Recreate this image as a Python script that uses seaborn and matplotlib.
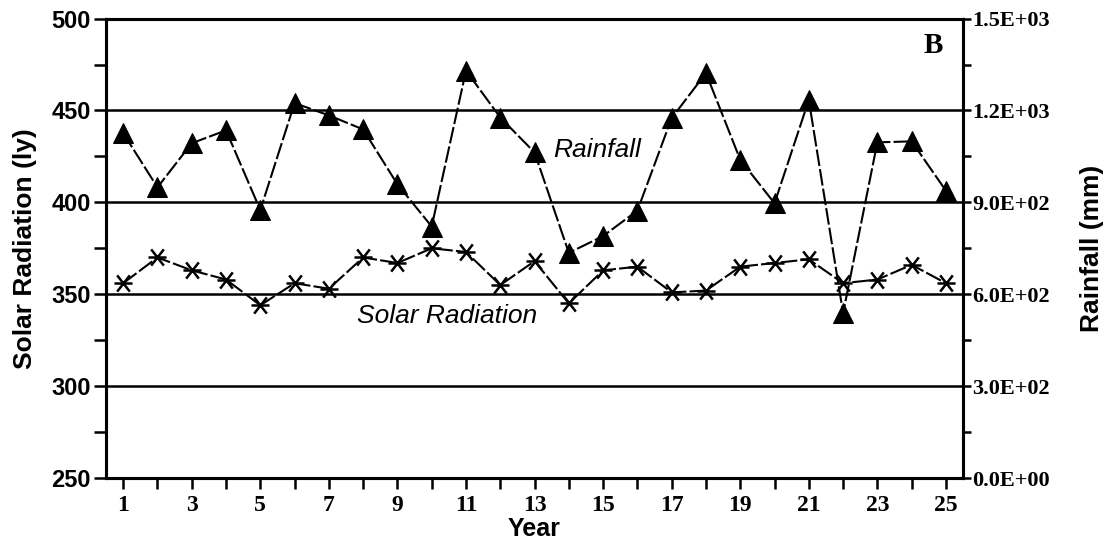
import numpy as np
import pandas as pd
import matplotlib
matplotlib.use("Agg")
import matplotlib.pyplot as plt
from matplotlib.path import Path
from matplotlib.ticker import FixedLocator, MultipleLocator
import seaborn as sns

# ---- data ----
years = list(range(1, 26))
solar_radiation = [356, 370, 363, 358, 344, 356, 353, 370, 367, 375, 373, 355, 368,
                   345, 363, 365, 351, 352, 365, 367, 369, 356, 358, 366, 356]
rainfall = [1126, 949, 1093, 1135, 875, 1224, 1184, 1138, 959, 821, 1330, 1177, 1063,
            735, 790, 873, 1175, 1322, 1039, 897, 1234, 538, 1096, 1099, 938]
left_ticks = [250, 300, 350, 400, 450, 500]
right_ticks = [0, 300, 600, 900, 1200, 1500]
right_tick_labels = ["0.0E+00", "3.0E+02", "6.0E+02", "9.0E+02", "1.2E+03", "1.5E+03"]
x_tick_labels = [str(y) if y % 2 == 1 else "" for y in years]

df = pd.DataFrame({"Year": years, "Solar": solar_radiation, "Rain": rainfall})

sns.set_style("white")
plt.rcParams["font.family"] = ["Liberation Sans", "DejaVu Sans"]
plt.rcParams.update({"text.color": "black", "axes.labelcolor": "black",
                     "xtick.color": "black", "ytick.color": "black"})

fig = plt.figure(figsize=(11.08, 5.46), dpi=100)
ax = fig.add_axes([0.0957, 0.1245, 0.7735, 0.8415])
ax2 = ax.twinx()

# asterisk marker: horizontal bar plus two diagonals
ast = Path([(-1, 0), (1, 0), (-0.7, -0.9), (0.7, 0.9), (-0.7, 0.9), (0.7, -0.9)],
           [Path.MOVETO, Path.LINETO, Path.MOVETO, Path.LINETO, Path.MOVETO, Path.LINETO])

sns.lineplot(data=df, x="Year", y="Solar", ax=ax, color="black", linewidth=1.5,
             linestyle=(0, (8, 1.5)), marker=ast, markersize=13,
             markeredgewidth=1.8, markeredgecolor="black", zorder=5)
sns.lineplot(data=df, x="Year", y="Rain", ax=ax2, color="black", linewidth=1.5,
             linestyle=(0, (8, 1.5)), marker="^", markersize=14,
             markerfacecolor="black", markeredgecolor="black", zorder=5)

ax.set_xlim(0.5, 25.5)
ax.set_ylim(250, 500)
ax2.set_ylim(0, 1500)

for y in left_ticks[1:-1]:
    ax.axhline(y, color="black", linewidth=1.8, zorder=1)

# left axis
ax.yaxis.set_major_locator(FixedLocator(left_ticks))
ax.yaxis.set_minor_locator(MultipleLocator(25))
ax.set_yticklabels([str(t) for t in left_ticks], fontsize=17, fontweight="bold",
                   family="Liberation Sans")
ax.tick_params(axis="y", which="both", direction="out", length=9, width=1.8,
               left=True, pad=2)

# x axis
ax.xaxis.set_major_locator(FixedLocator(years))
ax.set_xticklabels(x_tick_labels, fontsize=17, fontweight="bold", family="Liberation Serif")
ax.tick_params(axis="x", which="both", direction="out", length=8, width=1.8,
               bottom=True, pad=4)

# right axis
ax2.yaxis.set_major_locator(FixedLocator(right_ticks))
ax2.yaxis.set_minor_locator(MultipleLocator(150))
ax2.set_yticklabels(right_tick_labels, fontsize=16, fontweight="bold",
                    family="Liberation Serif")
ax2.tick_params(axis="y", which="both", direction="out", length=6, width=1.8,
                right=True, pad=0.5)

for a in (ax, ax2):
    for s in a.spines.values():
        s.set_linewidth(2.2)
        s.set_color("black")

ax.set_xlabel("Year", fontsize=18, fontweight="bold", labelpad=1)
ax.set_ylabel("Solar Radiation (ly)", fontsize=19, fontweight="bold", labelpad=10)
ax2.set_ylabel("Rainfall (mm)", fontsize=19, fontweight="bold", labelpad=22)

ax.text(14.83, 424.6, "Rainfall", fontsize=19, fontstyle="italic", ha="center",
        va="baseline", zorder=6)
ax.text(10.46, 334.3, "Solar Radiation", fontsize=19, fontstyle="italic", ha="center",
        va="baseline", zorder=6)
ax.text(0.977, 0.97, "B", transform=ax.transAxes, fontsize=21, fontweight="bold",
        family="Liberation Serif", ha="right", va="top")

fig.savefig("out.png", dpi=100)
